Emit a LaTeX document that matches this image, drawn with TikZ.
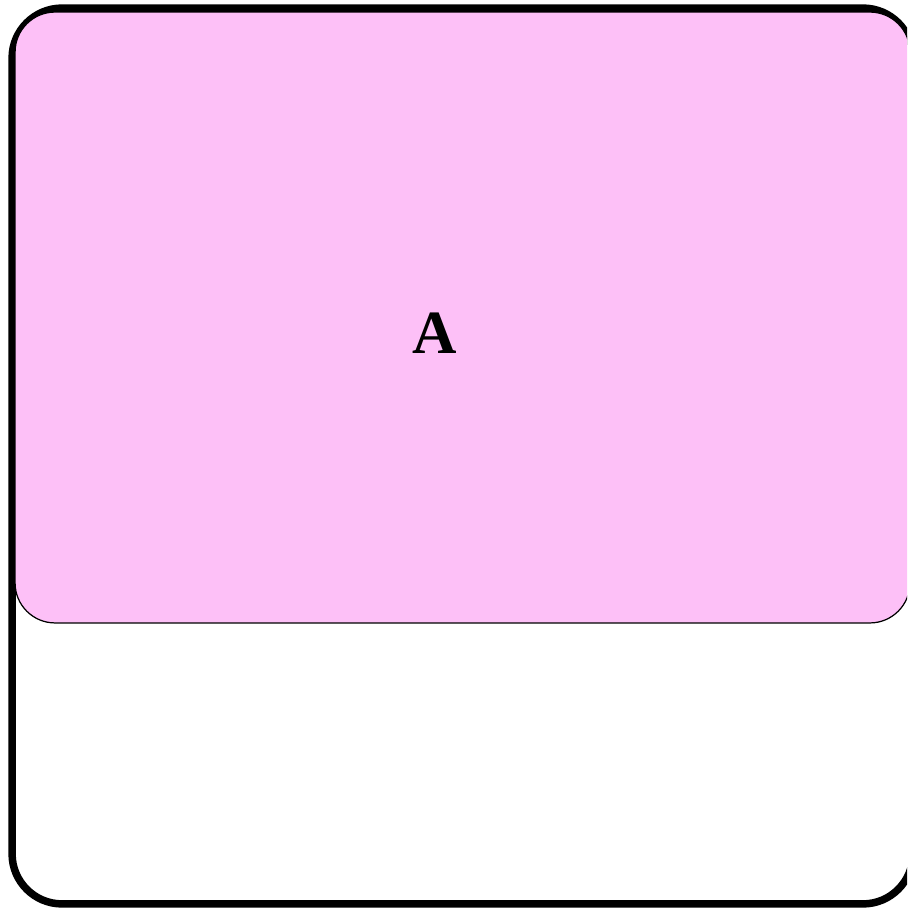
\documentclass[tikz,border=0pt]{standalone}
\usepackage{fontspec}
\setmainfont{Liberation Serif}[BoldFont={Liberation Serif Bold}]

\definecolor{boxpink}{RGB}{253,192,247}

\tikzset{
  frame/.style={draw=black, line width=0.15cm, rounded corners=1cm},
  partbox/.style={draw=black, line width=0.7pt, fill=boxpink, rounded corners=0.8cm},
}

\begin{document}
\begin{tikzpicture}[x=0.02cm, y=-0.02cm]

\useasboundingbox (0,0) rectangle (907,908);
\clip (0,0) rectangle (907,908);

\node (outer) [frame, minimum width=18.02cm, minimum height=17.92cm, inner sep=0pt] at (462.5,456) {};
\node (inner) [partbox, minimum width=17.9cm, minimum height=12.22cm, inner sep=0pt] at (462.5,317.5) {};

\node (lblA) at (435,333) {\fontsize{35}{40}\selectfont\bfseries A};

\end{tikzpicture}
\end{document}
